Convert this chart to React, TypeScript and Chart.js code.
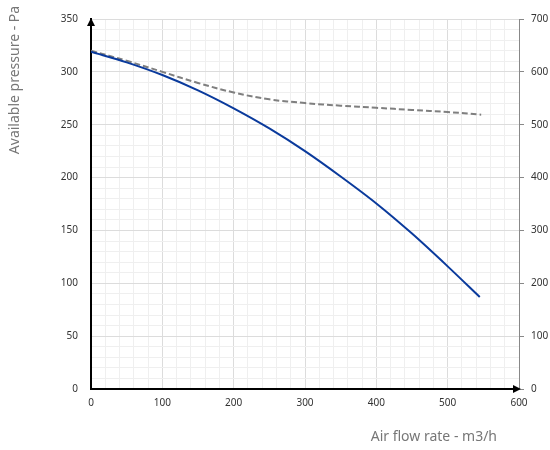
import React, { useEffect, useRef } from "react";
import { Chart, registerables } from "chart.js";

Chart.register(...registerables);

const flowX = [0, 50, 100, 150, 200, 250, 300, 350, 400, 450, 500, 545];
const pressure = [319, 309, 297, 282.5, 265.5, 246.5, 225, 201, 175.5, 147, 116, 87];
const powerX = [0, 50, 100, 150, 200, 250, 300, 350, 400, 450, 500, 547];
const power = [640, 621, 600, 579, 561, 548, 541, 536, 532, 528, 524, 519];

const yTitle = "Available pressure - Pa";
const xTitle = "Air flow rate - m3/h";

const FONT = "'Noto Sans', sans-serif";

const arrowPlugin = {
  id: "arrows",
  afterDraw(chart: any) {
    const { ctx, chartArea } = chart;
    const { left, right, top, bottom } = chartArea;
    ctx.save();
    ctx.fillStyle = "#000";
    ctx.beginPath();
    ctx.moveTo(left, top - 1);
    ctx.lineTo(left - 4, top + 7);
    ctx.lineTo(left + 4, top + 7);
    ctx.closePath();
    ctx.fill();
    ctx.beginPath();
    ctx.moveTo(right + 2, bottom);
    ctx.lineTo(right - 6, bottom - 4);
    ctx.lineTo(right - 6, bottom + 4);
    ctx.closePath();
    ctx.fill();
    ctx.font = "14px " + FONT;
    ctx.fillStyle = "#777";
    ctx.textBaseline = "middle";
    ctx.save();
    ctx.translate(15, 80);
    ctx.rotate(-Math.PI / 2);
    ctx.textAlign = "center";
    ctx.fillText(yTitle, 0, 0);
    ctx.restore();
    ctx.textAlign = "right";
    ctx.fillText(xTitle, 497, 437);
    ctx.restore();
  },
};

export default function App() {
  const ref = useRef<HTMLCanvasElement | null>(null);
  useEffect(() => {
    if (!ref.current) return;
    const chart = new Chart(ref.current, {
      type: "line",
      data: {
        datasets: [
          {
            label: "Pressure",
            data: flowX.map((x, i) => ({ x, y: pressure[i] })),
            borderColor: "#0a3a9c",
            borderWidth: 2,
            pointRadius: 0,
            cubicInterpolationMode: "monotone",
            yAxisID: "y",
          },
          {
            label: "Power",
            data: powerX.map((x, i) => ({ x, y: power[i] })),
            borderColor: "#7f7f7f",
            borderWidth: 2,
            borderDash: [6, 3],
            pointRadius: 0,
            tension: 0.4,
            yAxisID: "y1",
          },
        ],
      },
      options: {
        animation: false,
        responsive: false,
        maintainAspectRatio: false,
        layout: { padding: { top: 13, left: 0, right: 0, bottom: 0 } },
        plugins: { legend: { display: false }, tooltip: { enabled: false } },
        scales: {
          x: {
            type: "linear",
            min: 0,
            max: 600,
            afterFit: (s: any) => {
              s.height = 61;
            },
            ticks: {
              stepSize: 20,
              autoSkip: false,
              maxRotation: 0,
              padding: 8,
              color: "#333",
              font: { size: 10, family: FONT },
              callback: (v: any) => (v % 100 === 0 ? String(v) : ""),
            },
            grid: {
              drawTicks: false,
              color: (c: any) => (c.tick && c.tick.value % 100 === 0 ? "#dcdcdc" : "#efefef"),
            },
            border: { color: "#000", width: 2 },
          },
          y: {
            type: "linear",
            position: "left",
            min: 0,
            max: 350,
            afterFit: (s: any) => {
              s.width = 91;
            },
            ticks: {
              stepSize: 10,
              autoSkip: false,
              padding: 13,
              color: "#333",
              font: { size: 10, family: FONT },
              callback: (v: any) => (v % 50 === 0 ? String(v) : ""),
            },
            grid: {
              drawTicks: false,
              color: (c: any) => (c.tick && c.tick.value % 50 === 0 ? "#dcdcdc" : "#efefef"),
            },
            border: { color: "#000", width: 2 },
          },
          y1: {
            type: "linear",
            position: "right",
            min: 0,
            max: 700,
            afterFit: (s: any) => {
              s.width = 31;
            },
            ticks: {
              stepSize: 20,
              autoSkip: false,
              padding: 7,
              color: "#333",
              font: { size: 10, family: FONT },
              callback: (v: any) => (v % 100 === 0 ? String(v) : ""),
            },
            grid: {
              drawOnChartArea: false,
              tickLength: 5,
              tickColor: (c: any) => (c.tick && c.tick.value % 100 === 0 ? "#888" : "rgba(0,0,0,0)"),
            },
            border: { color: "#888", width: 1 },
          },
        },
      },
      plugins: [arrowPlugin],
    } as any);
    return () => chart.destroy();
  }, []);
  return (
    <div style={{ position: "fixed", left: 0, top: 0, width: 550, height: 450, background: "#fff" }}>
      <canvas ref={ref} width={550} height={450} style={{ display: "block" }} />
    </div>
  );
}
